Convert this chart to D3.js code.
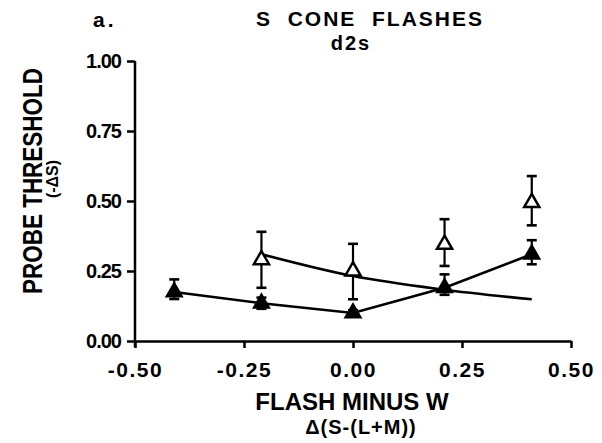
<!DOCTYPE html>
<html>
<head>
<meta charset="utf-8">
<script src="https://cdn.jsdelivr.net/npm/d3@7"></script>
<style>
  html, body { margin: 0; padding: 0; background: #fff; }
  svg { display: block; }
  text { font-family: "Liberation Sans", Arial, Helvetica, sans-serif; fill: #000; }
</style>
</head>
<body>
<script>
// ---- data ----
const xTicks = [-0.5, -0.25, 0, 0.25, 0.5];
const yTicks = [0, 0.25, 0.5, 0.75, 1.0];

const filledX  = [-0.41, -0.21, 0.0, 0.21, 0.41];
const filledY  = [0.175, 0.135, 0.10, 0.19, 0.31];
const filledLo = [0.15, 0.115, 0.09, 0.165, 0.274];
const filledHi = [0.22, 0.155, 0.11, 0.238, 0.36];

const openX  = [-0.21, 0.0, 0.21, 0.41];
const openY  = [0.29, 0.25, 0.345, 0.494];
const openLo = [0.19, 0.149, 0.268, 0.413];
const openHi = [0.39, 0.347, 0.435, 0.589];

// fitted curve through open-symbol data
const openFitX = [-0.21, 0.0, 0.2, 0.41];
const openFitY = [0.31, 0.232, 0.185, 0.149];

const titleText = "S  CONE  FLASHES";
const subTitle = "d2s";
const panelLabel = "a.";
const yTitle1 = "PROBE THRESHOLD";
const yTitle2 = "(-ΔS)";
const xTitle1 = "FLASH MINUS W";
const xTitle2 = "Δ(S-(L+M))";

// ---- drawing ----
const W = 602, H = 443;
const svg = d3.select("body").append("svg").attr("width", W).attr("height", H);
svg.append("rect").attr("width", W).attr("height", H).attr("fill", "#fff");

const x = d3.scaleLinear().domain([-0.5, 0.5]).range([135, 571]);
const y = d3.scaleLinear().domain([0, 1]).range([341, 61]);

// axes
const yAxis = d3.axisLeft(y).tickValues(yTicks).tickSize(8).tickSizeOuter(0).tickPadding(6)
  .tickFormat(d => d.toFixed(2));
const gy = svg.append("g").attr("transform", `translate(${x(-0.5)},0)`).call(yAxis);
gy.selectAll("path,line").attr("stroke", "#000").attr("stroke-width", 2.5);
gy.selectAll("text").attr("font-size", 20).attr("font-weight", "bold").attr("fill", "#000")
  .attr("letter-spacing", "-1px");
gy.select(".domain").attr("d", `M0,${y(1)}V${y(0) + 6}`);

const xAxis = d3.axisBottom(x).tickValues(xTicks).tickSize(7).tickSizeOuter(0).tickPadding(14)
  .tickFormat(d => d.toFixed(2));
const gx = svg.append("g").attr("transform", `translate(0,${y(0)})`).call(xAxis);
gx.selectAll("path,line").attr("stroke", "#000").attr("stroke-width", 2.5);
gx.selectAll("text").attr("font-size", 21).attr("font-weight", "bold").attr("fill", "#000")
  .attr("letter-spacing", "1.5px");

// lines
const line = d3.line().x(d => x(d[0])).y(d => y(d[1]));
svg.append("path").datum(filledX.map((v, i) => [v, filledY[i]]))
  .attr("d", line).attr("fill", "none").attr("stroke", "#000").attr("stroke-width", 2.6);
svg.append("path").datum(openFitX.map((v, i) => [v, openFitY[i]]))
  .attr("d", line.curve(d3.curveMonotoneX)).attr("fill", "none").attr("stroke", "#000").attr("stroke-width", 2.6);

// error bars
function errorBars(xs, lo, hi) {
  const g = svg.append("g").attr("stroke", "#000").attr("stroke-width", 2.2);
  xs.forEach((v, i) => {
    g.append("line").attr("x1", x(v)).attr("x2", x(v)).attr("y1", y(lo[i])).attr("y2", y(hi[i]));
    [lo[i], hi[i]].forEach(e => {
      g.append("line").attr("x1", x(v) - 5).attr("x2", x(v) + 5).attr("y1", y(e)).attr("y2", y(e))
        .attr("stroke-width", 2.6);
    });
  });
}
errorBars(filledX, filledLo, filledHi);
errorBars(openX, openLo, openHi);

// symbols
const triFilled = d3.symbol().type(d3.symbolTriangle).size(155);
const triOpen = d3.symbol().type(d3.symbolTriangle).size(100);
svg.append("g").selectAll("path").data(filledX).join("path")
  .attr("d", triFilled)
  .attr("transform", (d, i) => `translate(${x(d)},${y(filledY[i])})`)
  .attr("fill", "#000");
svg.append("g").selectAll("path").data(openX).join("path")
  .attr("d", triOpen)
  .attr("transform", (d, i) => `translate(${x(d)},${y(openY[i])})`)
  .attr("fill", "#fff").attr("stroke", "#000").attr("stroke-width", 2.5);

// titles
svg.append("text").attr("x", 93).attr("y", 27).attr("font-size", 21).attr("font-weight", "bold")
  .attr("letter-spacing", "3px").text(panelLabel);
svg.append("text").attr("x", 370).attr("y", 26).attr("text-anchor", "middle").attr("font-size", 21)
  .attr("font-weight", "bold").attr("letter-spacing", "2px").style("white-space", "pre").text(titleText);
svg.append("text").attr("x", 351).attr("y", 50).attr("text-anchor", "middle").attr("font-size", 20)
  .attr("font-weight", "bold").attr("letter-spacing", "2px").text(subTitle);

svg.append("text").attr("transform", "translate(42,181) rotate(-90) scale(1,1.25)").attr("text-anchor", "middle")
  .attr("font-size", 22.5).attr("font-weight", "bold").text(yTitle1);
svg.append("text").attr("transform", "translate(58,179) rotate(-90)").attr("text-anchor", "middle")
  .attr("font-size", 16).attr("font-weight", "bold").text(yTitle2);

svg.append("text").attr("x", 352).attr("y", 410).attr("text-anchor", "middle").attr("font-size", 24)
  .attr("font-weight", "bold").text(xTitle1);
svg.append("text").attr("x", 361).attr("y", 434).attr("text-anchor", "middle").attr("font-size", 20)
  .attr("font-weight", "bold").attr("letter-spacing", "1px").text(xTitle2);
</script>
</body>
</html>
